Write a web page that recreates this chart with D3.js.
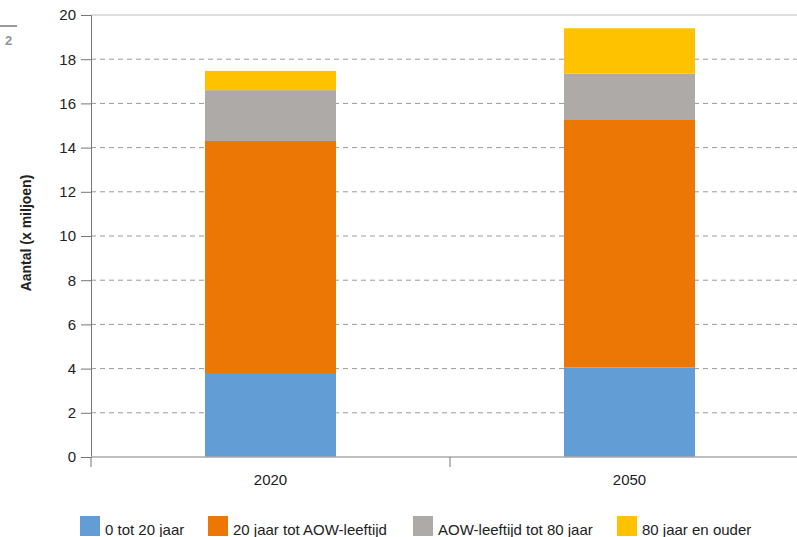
<script src="https://cdnjs.cloudflare.com/ajax/libs/d3/7.9.0/d3.min.js"></script>
<style>
  body { margin: 0; background: #fff; overflow: hidden; }
  svg { display: block; }
  text { font-family: "Liberation Sans", Arial, sans-serif; }
</style>
<div class="canvas"></div>
<script>
// data (x miljoen)
const years = ["2020", "2050"];
const groups = ["0 tot 20 jaar", "20 jaar tot AOW-leeftijd", "AOW-leeftijd tot 80 jaar", "80 jaar en ouder"];
const v0to20 = [3.8, 4.05];
const v20toAow = [10.5, 11.2];
const vAowTo80 = [2.3, 2.1];
const v80plus = [0.87, 2.05];
const colors = ["#629dd6", "#ec7704", "#aeaaa8", "#ffc200"];
const yTicks = [0, 2, 4, 6, 8, 10, 12, 14, 16, 18, 20];

const width = 797, height = 537;
const svg = d3.select(".canvas").append("svg")
  .attr("width", width).attr("height", height);

const x = d3.scaleBand().domain(years).range([91, 809]).paddingInner(0).paddingOuter(0);
const y = d3.scaleLinear().domain([0, 20]).range([457, 15]);

// build rows for the stack
const rows = years.map((yr, i) => ({
  year: yr,
  [groups[0]]: v0to20[i],
  [groups[1]]: v20toAow[i],
  [groups[2]]: vAowTo80[i],
  [groups[3]]: v80plus[i]
}));
const series = d3.stack().keys(groups)(rows);

// grid
svg.append("g").selectAll("line")
  .data(yTicks.filter(d => d > 0 && d < 20))
  .join("line")
  .attr("x1", 91).attr("x2", width)
  .attr("y1", d => y(d)).attr("y2", d => y(d))
  .attr("stroke", "#9a9a9a").attr("stroke-dasharray", "5,4");

// top border
svg.append("line").attr("x1", 91).attr("x2", width)
  .attr("y1", y(20)).attr("y2", y(20)).attr("stroke", "#bdbdbd");

// bars
const barW = 131;
svg.append("g").selectAll("g")
  .data(series).join("g")
  .attr("fill", (d, i) => colors[i])
  .selectAll("rect")
  .data(d => d).join("rect")
  .attr("x", d => x(d.data.year) + x.bandwidth() / 2 - barW / 2)
  .attr("width", barW)
  .attr("y", d => y(d[1]))
  .attr("height", d => y(d[0]) - y(d[1]));

// y axis
const yAxis = svg.append("g").attr("transform", "translate(91,0)")
  .call(d3.axisLeft(y).tickValues(yTicks).tickSize(10).tickPadding(5));
yAxis.select(".domain").attr("stroke", "#777");
yAxis.selectAll(".tick line").attr("stroke", "#777");
yAxis.selectAll("text").attr("font-size", 15).attr("fill", "#222")
  .attr("font-family", "Liberation Sans, Arial, sans-serif");

// x axis
const xAxis = svg.append("g").attr("transform", "translate(0,457)");
xAxis.append("line").attr("x1", 91).attr("x2", width).attr("y1", 0).attr("y2", 0)
  .attr("stroke", "#aaa").attr("stroke-width", 1.5);
xAxis.selectAll("line.tk").data([91, x("2050")]).join("line").attr("class", "tk")
  .attr("x1", d => d).attr("x2", d => d).attr("y1", 0).attr("y2", 10)
  .attr("stroke", "#777");
xAxis.selectAll("text").data(years).join("text")
  .attr("x", d => x(d) + x.bandwidth() / 2)
  .attr("y", 28)
  .attr("text-anchor", "middle")
  .attr("font-size", 15).attr("fill", "#222")
  .text(d => d);

// y title
svg.append("text")
  .attr("transform", "translate(31,233) rotate(-90)")
  .attr("text-anchor", "middle")
  .attr("font-size", 14).attr("font-weight", "bold").attr("fill", "#222")
  .text("Aantal (x miljoen)");

// legend
const legX = [80, 208, 413, 617];
const leg = svg.append("g").selectAll("g").data(groups).join("g")
  .attr("transform", (d, i) => `translate(${legX[i]},516)`);
leg.append("rect").attr("width", 20).attr("height", 20)
  .attr("fill", (d, i) => colors[i]);
leg.append("text").attr("x", 25).attr("y", 19)
  .attr("font-size", 15).attr("fill", "#222").text(d => d);

// scan artefact at top left
svg.append("line").attr("x1", 0).attr("x2", 17).attr("y1", 26).attr("y2", 26)
  .attr("stroke", "#999").attr("stroke-width", 2);
svg.append("text").attr("x", 5).attr("y", 45).attr("font-size", 13)
  .attr("font-weight", "bold").attr("fill", "#8a96a3").text("2");
</script>
